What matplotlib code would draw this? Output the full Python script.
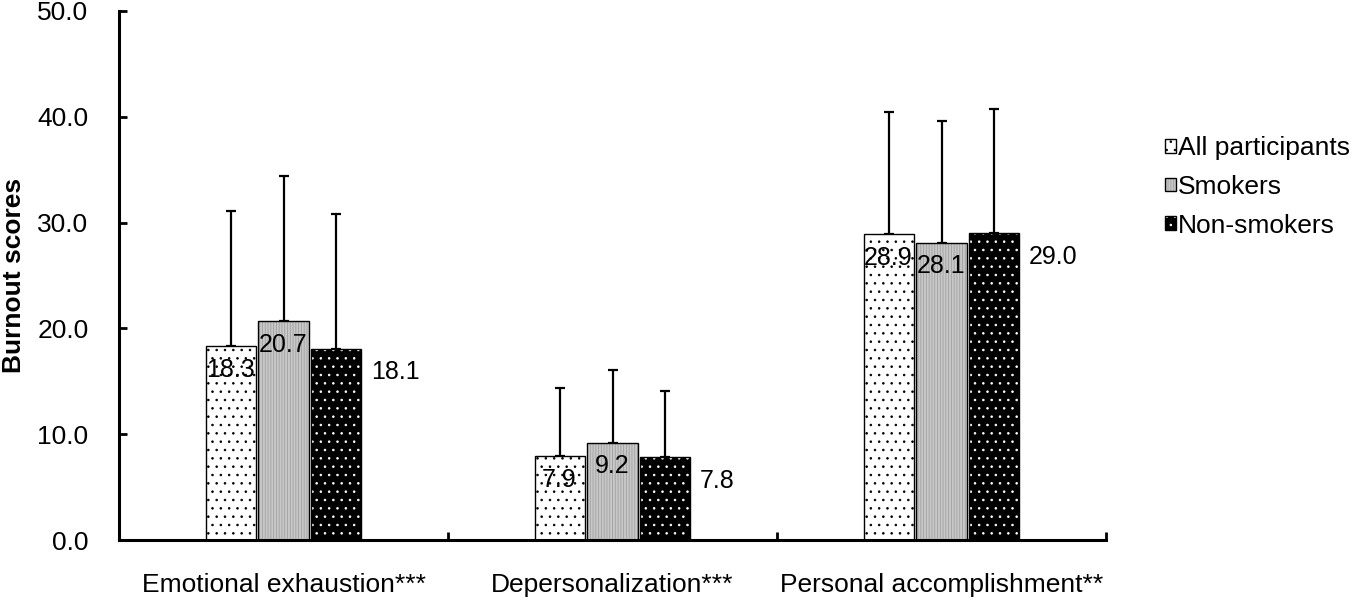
import numpy as np
import matplotlib
matplotlib.use("Agg")
import matplotlib.pyplot as plt
from matplotlib.legend_handler import HandlerTuple

plt.rcParams['font.family'] = ['Liberation Sans', 'DejaVu Sans']
plt.rcParams['hatch.linewidth'] = 0.6

# data
categories = ['Emotional exhaustion***', 'Depersonalization***', 'Personal accomplishment**']
groups = ['All participants', 'Smokers', 'Non-smokers']
all_mean = [18.3, 7.9, 28.9]
smk_mean = [20.7, 9.2, 28.1]
non_mean = [18.1, 7.8, 29.0]
all_sd = [12.8, 6.5, 11.6]
smk_sd = [13.7, 6.9, 11.5]
non_sd = [12.7, 6.3, 11.7]

means = [all_mean, smk_mean, non_mean]
sds = [all_sd, smk_sd, non_sd]

# fill, hatch colour, hatch
styles = [('white', 'black', '..'),
          ('#c8c8c8', '#a0a0a0', '||||||'),
          ('black', 'white', '..')]

fig = plt.figure(figsize=(13.58, 6.01), dpi=100)
ax = fig.add_axes([119/1358, 1-540/601, (1106-119)/1358, (540-11)/601])

x = np.arange(len(categories))
w = 0.152
step = 0.161
handles = []
for i in range(3):
    pos = x + (i-1)*step
    fc, hc, h = styles[i]
    b1 = ax.bar(pos, means[i], w, color=fc, edgecolor=hc, hatch=h, linewidth=0, zorder=2)
    b2 = ax.bar(pos, means[i], w, fill=False, edgecolor='black', linewidth=1, zorder=3)
    ax.errorbar(pos, means[i], yerr=[np.zeros(3), sds[i]], fmt='none', ecolor='black',
                elinewidth=1.6, capsize=3.6, capthick=1.6, zorder=1)
    handles.append((b1, b2))
    for j in range(3):
        if i < 2:
            ax.annotate('%.1f' % means[i][j], (pos[j], means[i][j]), xytext=(0, -17),
                        textcoords='offset points', ha='center', va='center', fontsize=18, zorder=4)
        else:
            ax.annotate('%.1f' % means[i][j], (pos[j] + w/2, means[i][j]), xytext=(7, -17),
                        textcoords='offset points', ha='left', va='center', fontsize=18, zorder=4)

ax.set_xlim(-0.5, 2.5)
ax.set_ylim(0, 50)
ax.set_yticks(np.arange(0, 51, 10))
ax.set_yticklabels(['%.1f' % v for v in np.arange(0, 51, 10)])
ax.set_xticks([0.5, 1.5, 2.5])
ax.set_xticklabels([])
ax.set_xticks(x, minor=True)
ax.set_xticklabels(categories, minor=True)

ax.tick_params(axis='y', direction='in', length=6, width=2, labelsize=19, pad=22)
ax.tick_params(axis='x', which='major', direction='in', length=6, width=2)
ax.tick_params(axis='x', which='minor', length=0, labelsize=19, pad=24)

for s in ['top', 'right']:
    ax.spines[s].set_visible(False)
for s in ['left', 'bottom']:
    ax.spines[s].set_linewidth(2.2)

ax.set_ylabel('Burnout scores', fontsize=19, fontweight='bold')
ax.yaxis.set_label_coords(-0.094, 0.5)

fig.legend(handles, groups, loc='center left', bbox_to_anchor=(1165/1358, 1-187/601),
           frameon=False, fontsize=19, borderpad=0, borderaxespad=0,
           handlelength=0.42, handleheight=0.42, handletextpad=0.08, labelspacing=0.55,
           handler_map={tuple: HandlerTuple(ndivide=1, pad=0)})

fig.savefig('out.png', dpi=100)
